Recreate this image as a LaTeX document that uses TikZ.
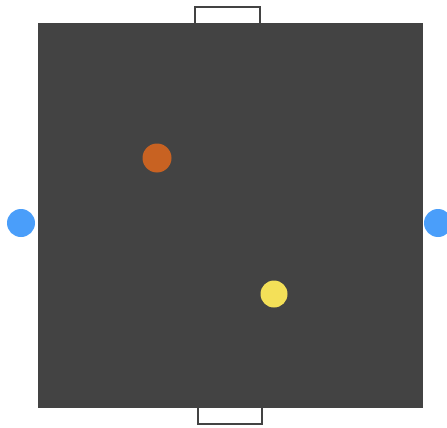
\documentclass[tikz,border=0pt]{standalone}
\usepackage{xcolor}
\usepackage{tikz}
\definecolor{BoardGrey}{RGB}{67, 67, 67}
\definecolor{PortBlue}{RGB}{74, 158, 250}
\definecolor{BallOrange}{RGB}{200, 98, 34}
\definecolor{BallYellow}{RGB}{244, 224, 88}

\begin{document}
\begin{tikzpicture}[x=1pt, y=-1pt,
    ball/.style={circle, inner sep=0pt, minimum size=28pt},
    goal/.style={draw=BoardGrey, line width=2.5pt}]
    \useasboundingbox (0,0) rectangle (447,428);
    \node[fill=BoardGrey, inner sep=0pt, minimum width=385pt, minimum height=385pt] (board) at (230,215.5) {};
    % goals
    \draw[goal] (195,23) -- (195,7) -- (260,7) -- (260,23);
    \draw[goal] (198,408) -- (198,424) -- (262,424) -- (262,408);
    % players and ball
    \node[ball, fill=PortBlue] (left) at (21,223) {};
    \node[ball, fill=PortBlue] (right) at (438,223) {};
    \node[ball, fill=BallOrange, minimum size=29pt] (orange) at (157,158) {};
    \node[ball, fill=BallYellow, minimum size=27pt] (yellow) at (274,294) {};
  \end{tikzpicture}
\end{document}
